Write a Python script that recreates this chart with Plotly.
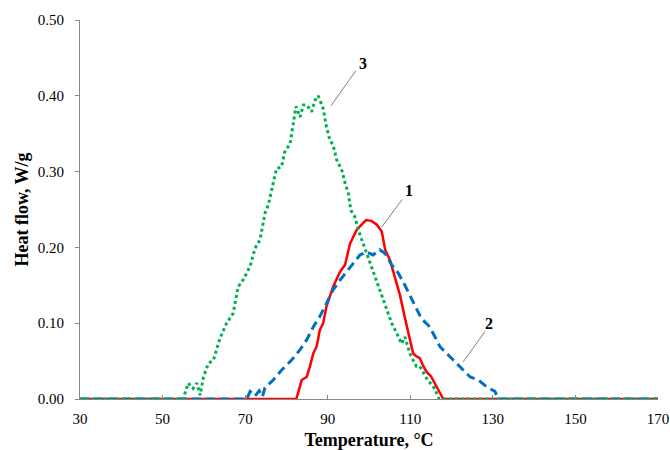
import plotly.graph_objects as go

# Sample 1 (solid red)
temp_1 = [30, 82.4, 83.7, 84.9, 85.7, 86.5, 87.3, 88.1, 88.9, 89.7, 90.5, 91.3, 93.0,
          94.2, 95.4, 97.0, 98.2, 99.3, 100.6, 101.9, 103.1, 103.9, 105.1, 106.3, 107.5,
          108.7, 109.9, 110.7, 111.3, 112.3, 113.2, 113.9, 115.0, 115.5, 116.8, 118.0, 170]
flow_1 = [0, 0, 0.025, 0.029, 0.043, 0.060, 0.069, 0.091, 0.100, 0.122, 0.135, 0.148, 0.168,
          0.177, 0.205, 0.223, 0.230, 0.236, 0.235, 0.230, 0.221, 0.197, 0.183, 0.161, 0.137,
          0.107, 0.078, 0.060, 0.057, 0.054, 0.043, 0.036, 0.030, 0.025, 0.012, 0, 0]

# Sample 2 (dashed blue)
temp_2 = [30, 70.4, 71.2, 72.4, 73.4, 74.2, 74.8, 76.8, 78.8, 81.2, 83.3, 84.9, 86.5, 88.1,
          89.7, 91.3, 93.0, 94.6, 96.2, 97.8, 99.4, 101.0, 102.6, 103.9, 105.5, 107.1, 108.7,
          110.3, 111.5, 112.7, 114.4, 115.5, 117.2, 119.6, 122.0, 124.5, 126.5, 128.5, 130.5,
          131.3, 170]
flow_2 = [0, 0, 0.010, 0.004, 0.011, 0.003, 0.015, 0.025, 0.038, 0.051, 0.065, 0.078, 0.095,
          0.109, 0.126, 0.144, 0.157, 0.168, 0.179, 0.190, 0.194, 0.190, 0.197, 0.192, 0.177,
          0.166, 0.150, 0.133, 0.120, 0.106, 0.097, 0.087, 0.069, 0.056, 0.043, 0.029, 0.025,
          0.016, 0.010, 0, 0]

# Sample 3 (dotted green)
temp_3 = [30, 55.0, 56.2, 57.4, 58.3, 59.1, 59.9, 61.1, 62.3, 63.9, 65.5, 67.1, 68.3, 69.5,
          71.2, 72.4, 73.6, 74.8, 75.6, 76.8, 77.6, 78.8, 79.6, 80.9, 81.7, 82.3, 83.3, 84.1,
          84.9, 86.1, 86.9, 87.7, 88.9, 89.7, 90.5, 91.3, 92.2, 93.4, 94.2, 95.0, 95.6, 96.6,
          97.4, 98.6, 100.2, 101.9, 103.1, 104.3, 105.5, 106.7, 107.9, 108.7, 109.9, 110.7,
          111.5, 112.3, 113.2, 113.9, 114.4, 115.5, 116.3, 117.0, 170]
flow_3 = [0, 0, 0.021, 0.014, 0.021, 0.005, 0.029, 0.047, 0.051, 0.080, 0.100, 0.113, 0.148,
          0.157, 0.175, 0.199, 0.210, 0.245, 0.256, 0.285, 0.304, 0.306, 0.326, 0.337, 0.368,
          0.386, 0.372, 0.388, 0.388, 0.379, 0.394, 0.400, 0.383, 0.359, 0.342, 0.335, 0.315,
          0.302, 0.285, 0.271, 0.249, 0.240, 0.223, 0.205, 0.179, 0.153, 0.135, 0.117, 0.100,
          0.087, 0.073, 0.082, 0.060, 0.051, 0.043, 0.043, 0.034, 0.029, 0.023, 0.018, 0.008,
          0, 0]

x_ticks = [30, 50, 70, 90, 110, 130, 150, 170]
y_ticks = [0.0, 0.1, 0.2, 0.3, 0.4, 0.5]

# Curve labels: (text, text position, leader start, leader end)
labels = [
    ("1", (109.8, 0.275), (108.0, 0.263), (103.1, 0.227)),
    ("2", (129.1, 0.100), (128.1, 0.089), (122.8, 0.049)),
    ("3", (98.5, 0.443), (96.8, 0.433), (90.8, 0.387)),
]

SERIF = "Liberation Serif, Times New Roman, serif"

fig = go.Figure()
fig.add_trace(go.Scatter(x=temp_1, y=flow_1, mode="lines", cliponaxis=False,
                         line=dict(color="#FF0000", width=2.5)))
fig.add_trace(go.Scatter(x=temp_2, y=flow_2, mode="lines", cliponaxis=False,
                         line=dict(color="#0070C0", width=3, dash="9px,5px")))
fig.add_trace(go.Scatter(x=temp_3, y=flow_3, mode="lines", cliponaxis=False,
                         line=dict(color="#00B050", width=3, dash="3px,3px")))

for text, tpos, p0, p1 in labels:
    fig.add_shape(type="line", xref="x", yref="y", x0=p0[0], y0=p0[1], x1=p1[0], y1=p1[1],
                  line=dict(color="#808080", width=1))
    fig.add_annotation(x=tpos[0], y=tpos[1], text="<b>%s</b>" % text, showarrow=False,
                       font=dict(family=SERIF, size=16, color="black"))

fig.update_layout(
    width=670, height=450,
    margin=dict(l=80, r=12, t=20, b=51),
    paper_bgcolor="white", plot_bgcolor="white",
    showlegend=False,
    font=dict(family=SERIF, size=15, color="black"),
)
fig.update_xaxes(
    range=[30, 170], tickvals=x_ticks, ticktext=[str(v) for v in x_ticks],
    showgrid=False, zeroline=False, showline=True, linecolor="#888888", linewidth=1,
    ticks="inside", ticklen=4, tickcolor="#888888", ticklabelstandoff=6, automargin=False,
    title=dict(text="<b>Temperature, °C</b>", font=dict(family=SERIF, size=18), standoff=8),
)
fig.update_yaxes(
    range=[0, 0.5], tickvals=y_ticks, ticktext=["%.2f" % v for v in y_ticks],
    showgrid=False, zeroline=False, showline=True, linecolor="#888888", linewidth=1,
    ticks="outside", ticklen=4, tickcolor="#888888", ticklabelstandoff=8, automargin=False,
    title=dict(text="<b>Heat flow, W/g</b>", font=dict(family=SERIF, size=18), standoff=4),
)

fig.write_html("out.html")
